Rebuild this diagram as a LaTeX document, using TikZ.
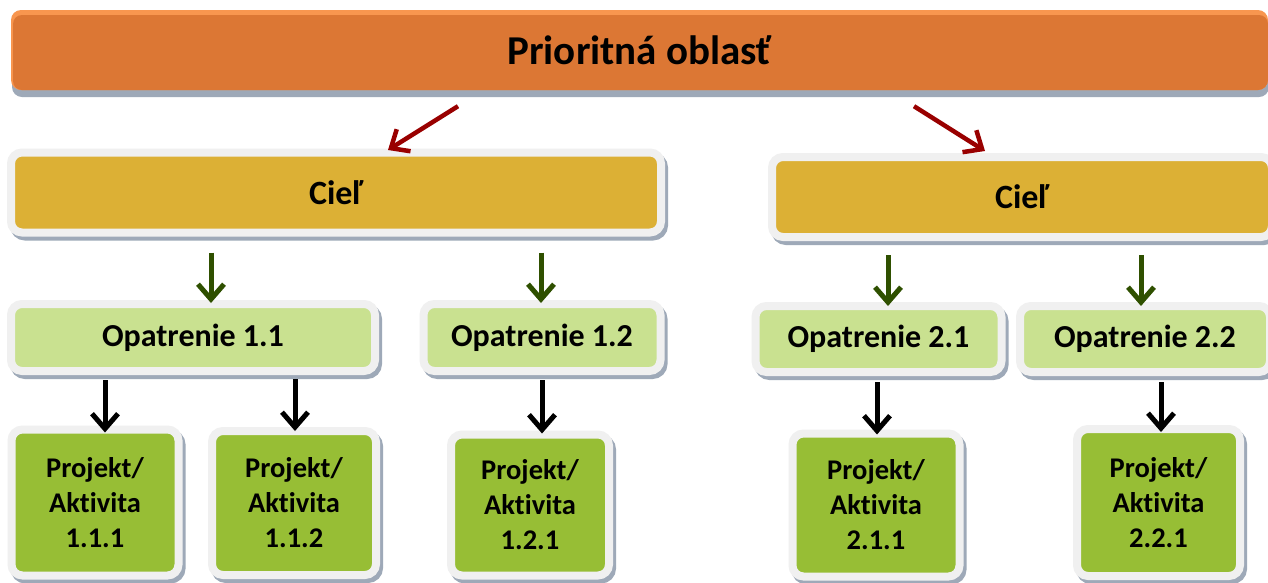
\documentclass[tikz,border=0pt]{standalone}
\usepackage{fontspec}
\setmainfont{Carlito}[Ligatures=NoCommon]
\usetikzlibrary{arrows.meta,shadows}
\definecolor{orangebar}{HTML}{DC7734}
\definecolor{orangelight}{HTML}{F8964F}
\definecolor{goldbox}{HTML}{DCB035}
\definecolor{lightgreen}{HTML}{C9E190}
\definecolor{projgreen}{HTML}{97BE35}
\definecolor{framecol}{HTML}{F0F0F0}
\definecolor{shadowcol}{HTML}{9EA9B8}
\definecolor{redarrow}{HTML}{990000}
\definecolor{greenarrow}{HTML}{2F5000}
\begin{document}
\begin{tikzpicture}[x=1pt,y=-1pt,
  box/.style={draw=framecol, line width=8pt, rounded corners=11pt, inner sep=0pt, align=center,
    drop shadow={shadow xshift=3pt, shadow yshift=-4pt, opacity=1, fill=shadowcol, draw=shadowcol, line width=8pt}},
  cielbox/.style={box, fill=goldbox, minimum height=80pt, font=\bfseries\fontsize{34}{40}\selectfont},
  opbox/.style={box, fill=lightgreen, font=\bfseries\fontsize{32}{38}\selectfont},
  projbox/.style={box, fill=projgreen, font=\bfseries\fontsize{28.5}{35}\selectfont},
  barbox/.style={fill=orangelight, rounded corners=10pt, inner sep=0pt, minimum width=1257pt, minimum height=80pt,
    font=\bfseries\fontsize{41}{48}\selectfont,
    drop shadow={shadow xshift=1pt, shadow yshift=-7pt, opacity=1, fill=shadowcol},
    path picture={\fill[orangebar, rounded corners=9pt] ([xshift=2pt,yshift=-5pt]path picture bounding box.north west) rectangle (path picture bounding box.south east);}},
  tipshape/.style={-{Straight Barb[length=15pt,width=26pt]}},
  rarrow/.style={tipshape, draw=redarrow, line width=4.5pt},
  garrow/.style={tipshape, draw=greenarrow, line width=5pt},
  barrow/.style={tipshape, draw=black, line width=5pt}
]
\path[use as bounding box, fill=white] (0,0) rectangle (1268,582);

% top bar
\node[barbox] (bar) at (639.5,50) {Prioritná oblasť};

% goals
\node[cielbox, minimum width=650pt] (cielL) at (336,192.5) {Cieľ};
\node[cielbox, minimum width=500pt] (cielR) at (1022,197) {Cieľ};

% measures
\node[opbox, minimum width=364pt, minimum height=67pt] (op11) at (193,337.5) {Opatrenie 1.1};
\node[opbox, minimum width=237pt, minimum height=67pt] (op12) at (542,337.5) {Opatrenie 1.2};
\node[opbox, minimum width=246pt, minimum height=66pt] (op21) at (878.5,339) {Opatrenie 2.1};
\node[opbox, minimum width=250pt, minimum height=66pt] (op22) at (1145,339) {Opatrenie 2.2};

% projects
\node[projbox, minimum width=167pt, minimum height=146pt] (p111) at (95,502.5) {Projekt/\\Aktivita\\1.1.1};
\node[projbox, minimum width=164pt, minimum height=144pt] (p112) at (294,503) {Projekt/\\Aktivita\\1.1.2};
\node[projbox, minimum width=158pt, minimum height=141pt] (p121) at (530,505) {Projekt/\\Aktivita\\1.2.1};
\node[projbox, minimum width=167pt, minimum height=143pt] (p211) at (876,505) {Projekt/\\Aktivita\\2.1.1};
\node[projbox, minimum width=163pt, minimum height=147pt] (p221) at (1158.5,502.5) {Projekt/\\Aktivita\\2.2.1};

% red connectors
\draw[rarrow] ([xshift=-181.5pt,yshift=-16pt]bar.south) -- ([xshift=52pt,yshift=-1.5pt]cielL.north);
\draw[rarrow] ([xshift=274.5pt,yshift=-16pt]bar.south) -- ([xshift=-37pt,yshift=2pt]cielR.north);

% green connectors
\draw[garrow] ([xshift=-125pt,yshift=-16pt]cielL.south) -- ([xshift=18pt,yshift=-3pt]op11.north);
\draw[garrow] ([xshift=205pt,yshift=-16pt]cielL.south) -- ([xshift=-1pt,yshift=-3pt]op12.north);
\draw[garrow] ([xshift=-134pt,yshift=-14pt]cielR.south) -- ([xshift=9.5pt,yshift=-4pt]op21.north);
\draw[garrow] ([xshift=119pt,yshift=-14pt]cielR.south) -- ([xshift=-4pt,yshift=-4pt]op22.north);

% black connectors
\draw[barrow] ([xshift=-88pt,yshift=-5pt]op11.south) -- ([xshift=10pt,yshift=-7pt]p111.north);
\draw[barrow] ([xshift=102pt,yshift=-4pt]op11.south) -- ([xshift=1pt,yshift=-4pt]p112.north);
\draw[barrow] ([xshift=0pt,yshift=-5pt]op12.south) -- ([xshift=12pt,yshift=-3pt]p121.north);
\draw[barrow] ([xshift=-1.5pt,yshift=-6pt]op21.south) -- ([xshift=1pt,yshift=-5pt]p211.north);
\draw[barrow] ([xshift=16pt,yshift=-6pt]op22.south) -- ([xshift=2.5pt,yshift=-7pt]p221.north);
\end{tikzpicture}
\end{document}
